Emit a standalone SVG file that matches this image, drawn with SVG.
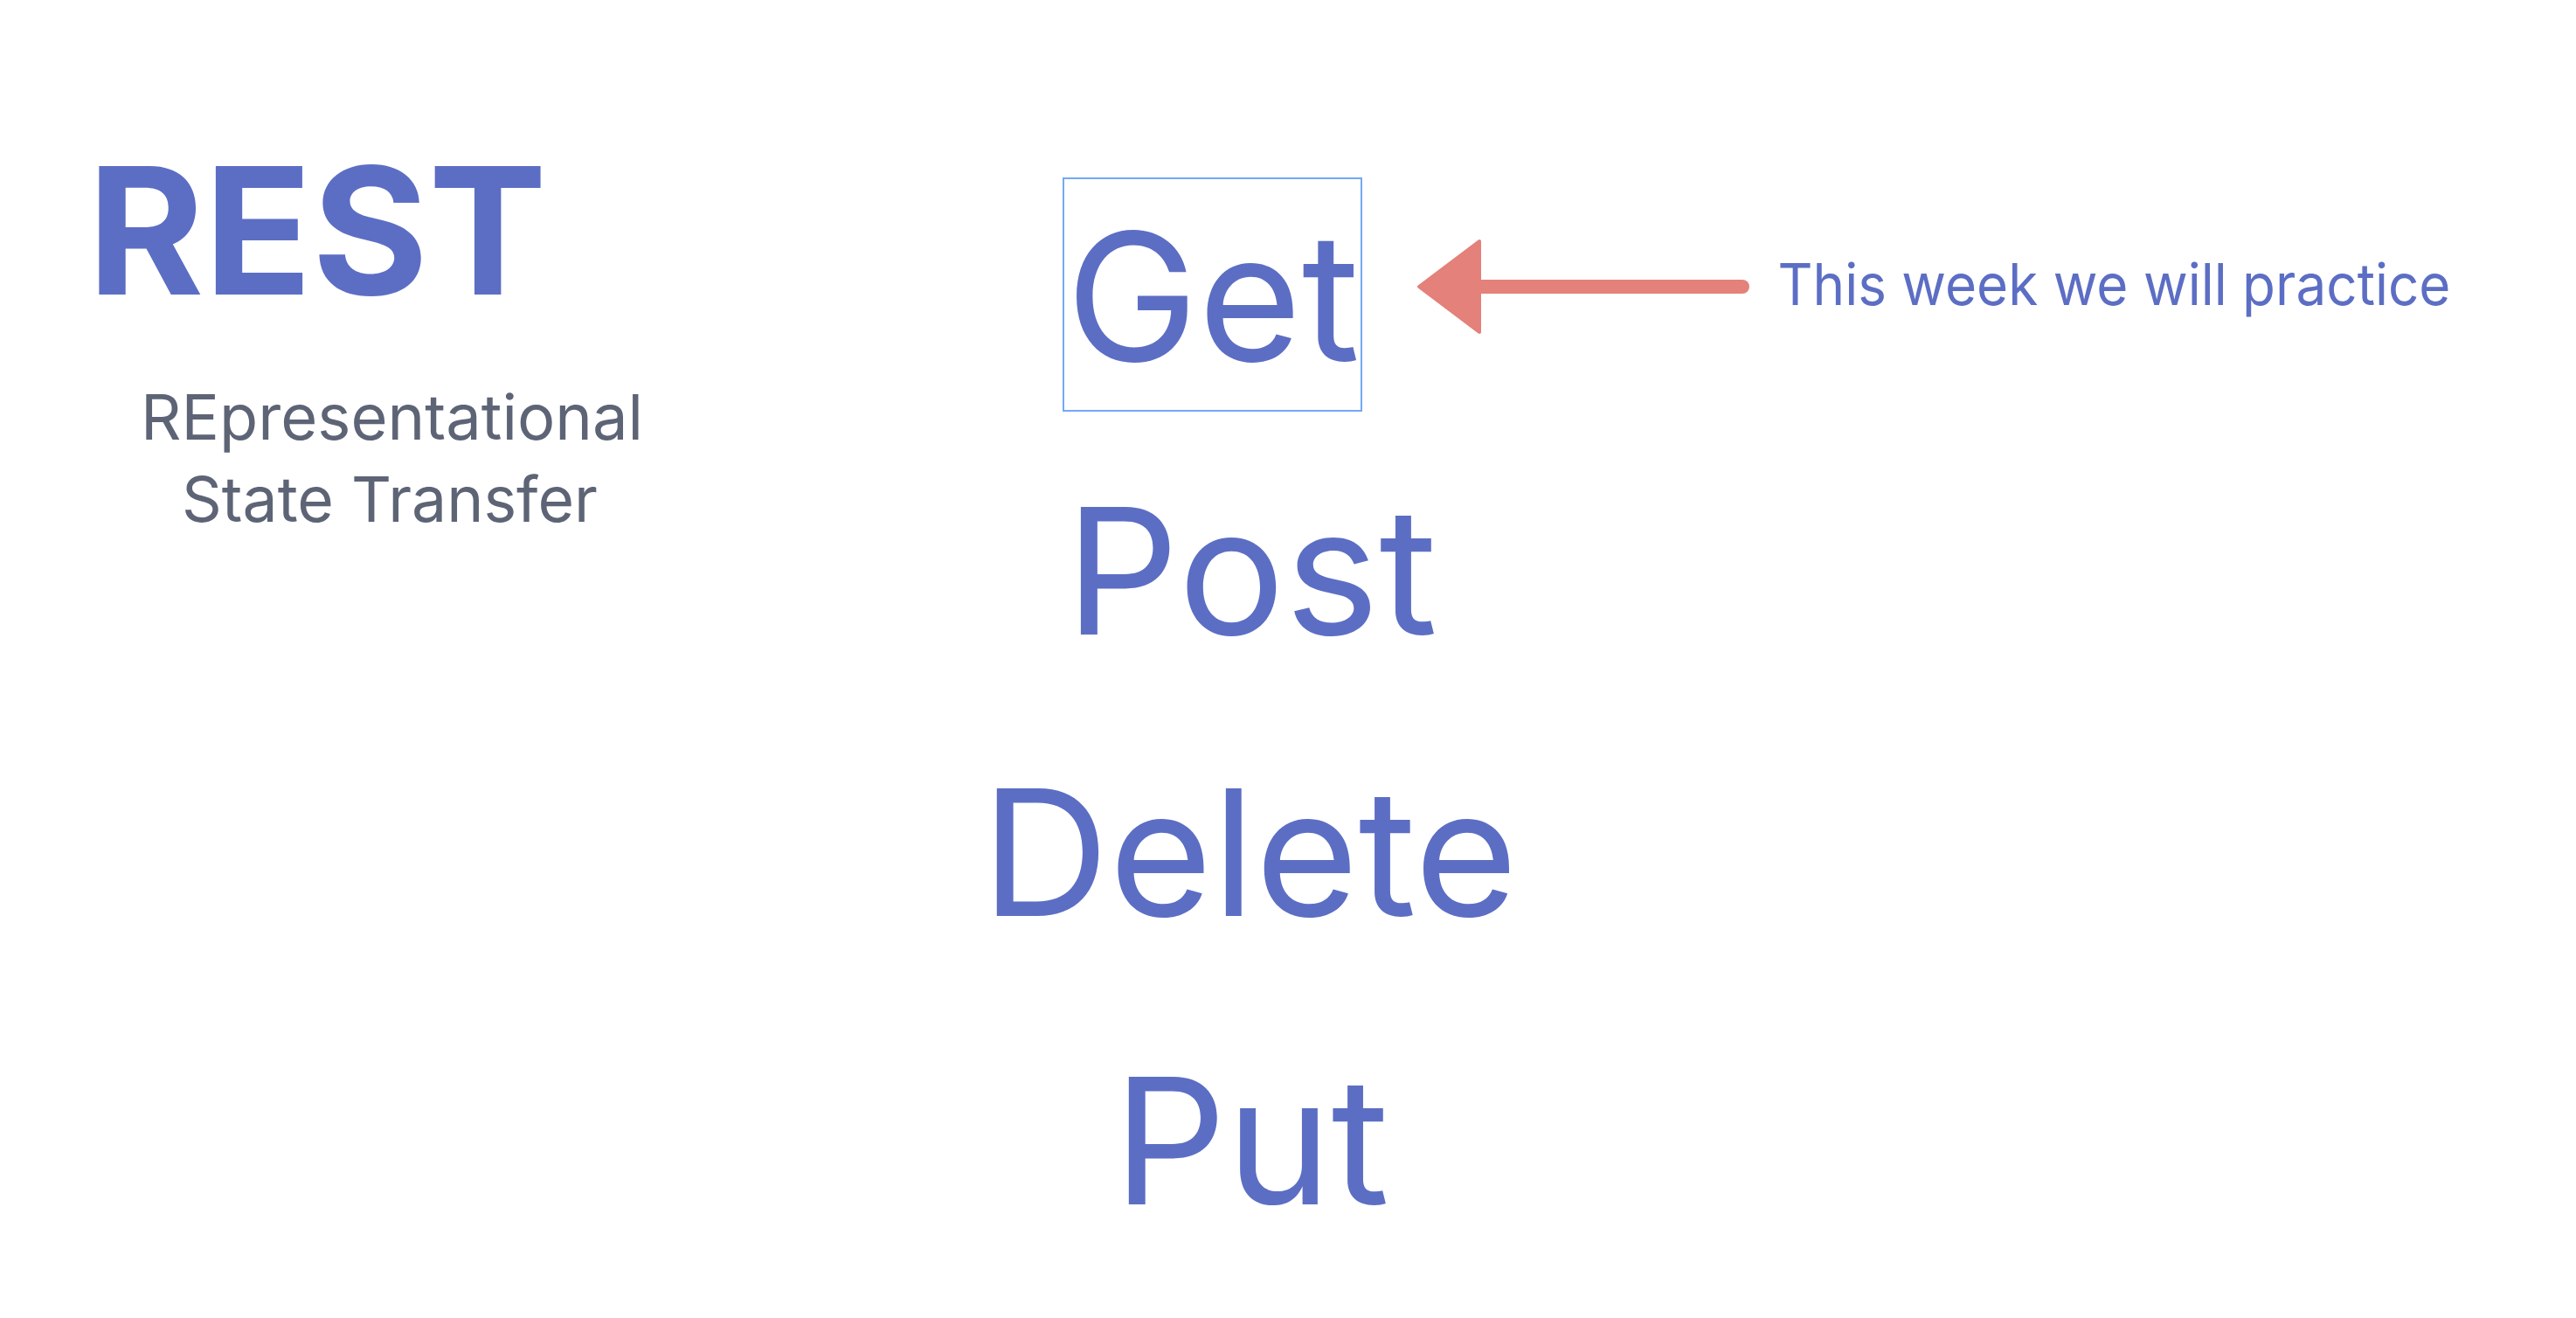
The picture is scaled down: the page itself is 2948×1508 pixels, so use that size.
<svg xmlns="http://www.w3.org/2000/svg" width="2948" height="1508" viewBox="0 0 2948 1508">
  <style>
    .method { font-family: Inter, "Liberation Sans", Arial, sans-serif; font-size: 201px; fill: #5c6ec4; }
    .title { font-family: Inter, "Liberation Sans", Arial, sans-serif; font-size: 202px; font-weight: bold; fill: #5c6ec4; }
    .sub { font-family: Inter, "Liberation Sans", Arial, sans-serif; font-size: 71.5px; fill: #5d6475; }
    .note { font-family: Inter, "Liberation Sans", Arial, sans-serif; font-size: 65.5px; fill: #5c6ec4; }
    .arrow { stroke: #e3817a; fill: #e3817a; }
  </style>
  <rect width="2948" height="1508" fill="#ffffff"/>
  <g id="rest-title">
    <text class="title" x="100" y="337" textLength="526" lengthAdjust="spacingAndGlyphs">REST</text>
  </g>
  <g id="rest-subtitle">
    <text class="sub" x="161" y="503" textLength="575" lengthAdjust="spacingAndGlyphs">REpresentational</text>
    <text class="sub" x="208" y="597" textLength="476" lengthAdjust="spacingAndGlyphs">State Transfer</text>
  </g>
  <g id="get">
    <rect x="1217" y="204" width="341" height="266" fill="none" stroke="#73a9f5" stroke-width="2"/>
    <text class="method" x="1220" y="413" textLength="336" lengthAdjust="spacingAndGlyphs" style="font-size:203px">Get</text>
  </g>
  <g id="post">
    <text class="method" x="1219" y="726" textLength="426" lengthAdjust="spacingAndGlyphs">Post</text>
  </g>
  <g id="delete">
    <text class="method" x="1123" y="1048" textLength="614" lengthAdjust="spacingAndGlyphs">Delete</text>
  </g>
  <g id="put">
    <text class="method" x="1274" y="1378" textLength="316" lengthAdjust="spacingAndGlyphs">Put</text>
  </g>
  <g id="note">
    <text class="note" x="2034.5" y="349" textLength="770" lengthAdjust="spacingAndGlyphs">This week we will practice</text>
  </g>
  <g id="connectors">
    <line class="arrow" x1="1690" y1="328" x2="1994" y2="328" stroke-width="16" stroke-linecap="round"/>
    <polygon class="arrow" points="1624,328 1693,276 1693,380" stroke-width="4" stroke-linejoin="round"/>
  </g>
</svg>
